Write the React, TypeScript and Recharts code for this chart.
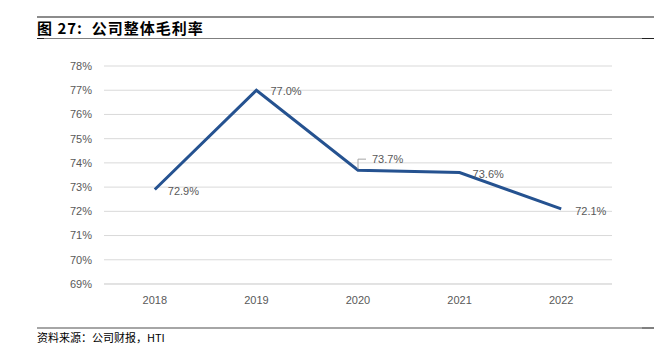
import React from "react";
import { LineChart, Line, XAxis, YAxis, CartesianGrid, LabelList } from "recharts";

const years = ["2018", "2019", "2020", "2021", "2022"];
const grossMargin = [72.9, 77.0, 73.7, 73.6, 72.1];
const yTicks = [69, 70, 71, 72, 73, 74, 75, 76, 77, 78];

const titleText = "图 27:  公司整体毛利率";
const sourceText = "资料来源：公司财报，HTI";

const data = years.map((y, i) => ({ year: y, value: grossMargin[i] }));

// label placement relative to each point (dx, dy), and whether a leader line is drawn
const labelOffsets = [
  { dx: 13, dy: 2, leader: false },
  { dx: 14, dy: 1, leader: false },
  { dx: 14, dy: -11, leader: true },
  { dx: 13, dy: 2, leader: false },
  { dx: 14, dy: 2, leader: false },
];

const FONT = "'Liberation Sans', Arial, sans-serif";

const DataLabel = (props: any) => {
  const { x, y, value, index } = props;
  const o = labelOffsets[index] || { dx: 13, dy: 0, leader: false };
  const tx = x + o.dx;
  const ty = y + o.dy;
  return (
    <g>
      {o.leader && (
        <polyline
          points={`${x},${y - 1} ${x},${ty} ${tx - 6},${ty}`}
          fill="none"
          stroke="#a6a6a6"
          strokeWidth={1}
        />
      )}
      <text
        x={tx}
        y={ty}
        dy="0.35em"
        fontSize={11}
        fontFamily={FONT}
        fill="#595959"
        textAnchor="start"
      >
        {Number(value).toFixed(1)}%
      </text>
    </g>
  );
};

export default function App() {
  return (
    <div style={{ position: "absolute", left: 0, top: 0, width: 669, height: 356, background: "#fff" }}>
      <div style={{ position: "absolute", left: 37, top: 16, width: 617, height: 2, background: "#8c8c8c" }} />
      <div
        style={{
          position: "absolute",
          left: 37,
          top: 19,
          fontFamily: "'Noto Sans CJK SC', sans-serif",
          fontWeight: 700,
          fontSize: 15,
          lineHeight: "18px",
          letterSpacing: 1,
          color: "#000",
          whiteSpace: "pre",
        }}
      >
        {titleText}
      </div>
      <div style={{ position: "absolute", left: 37, top: 38, width: 617, height: 1, background: "#7f7f7f" }} />
      <div style={{ position: "absolute", left: 37, top: 38, width: 7, height: 1, background: "#222" }} />
      <div style={{ position: "absolute", left: 642, top: 38, width: 12, height: 1, background: "#222" }} />

      <div style={{ position: "absolute", left: 0, top: 0 }}>
        <LineChart
          width={669}
          height={356}
          data={data}
          margin={{ top: 66, right: 57, bottom: 42, left: 60 }}
        >
          <CartesianGrid horizontal={true} vertical={false} stroke="#d9d9d9" strokeWidth={1} />
          <XAxis
            dataKey="year"
            height={30}
            padding={{ left: 50.8, right: 50.8 }}
            axisLine={{ stroke: "#d9d9d9" }}
            tickLine={false}
            tickSize={0}
            tickMargin={12}
            tick={{ fontSize: 11, fill: "#595959", fontFamily: FONT }}
            interval={0}
          />
          <YAxis
            width={44}
            domain={[69, 78]}
            ticks={yTicks}
            interval={0}
            axisLine={false}
            tickLine={false}
            tickSize={0}
            tickMargin={12}
            tickFormatter={(v: number) => `${v}%`}
            tick={{ fontSize: 11, fill: "#595959", fontFamily: FONT }}
          />
          <Line
            type="linear"
            dataKey="value"
            stroke="#255290"
            strokeWidth={3}
            dot={false}
            activeDot={false}
            isAnimationActive={false}
          >
            <LabelList dataKey="value" content={<DataLabel />} />
          </Line>
        </LineChart>
      </div>

      <div style={{ position: "absolute", left: 37, top: 327, width: 617, height: 2, background: "#a6a6a6" }} />
      <div style={{ position: "absolute", left: 642, top: 327, width: 12, height: 2, background: "#808080" }} />
      <div
        style={{
          position: "absolute",
          left: 37,
          top: 330,
          fontFamily: "'Noto Sans CJK SC', sans-serif",
          fontSize: 11,
          lineHeight: "14px",
          color: "#000",
          whiteSpace: "pre",
        }}
      >
        {sourceText}
      </div>
    </div>
  );
}
